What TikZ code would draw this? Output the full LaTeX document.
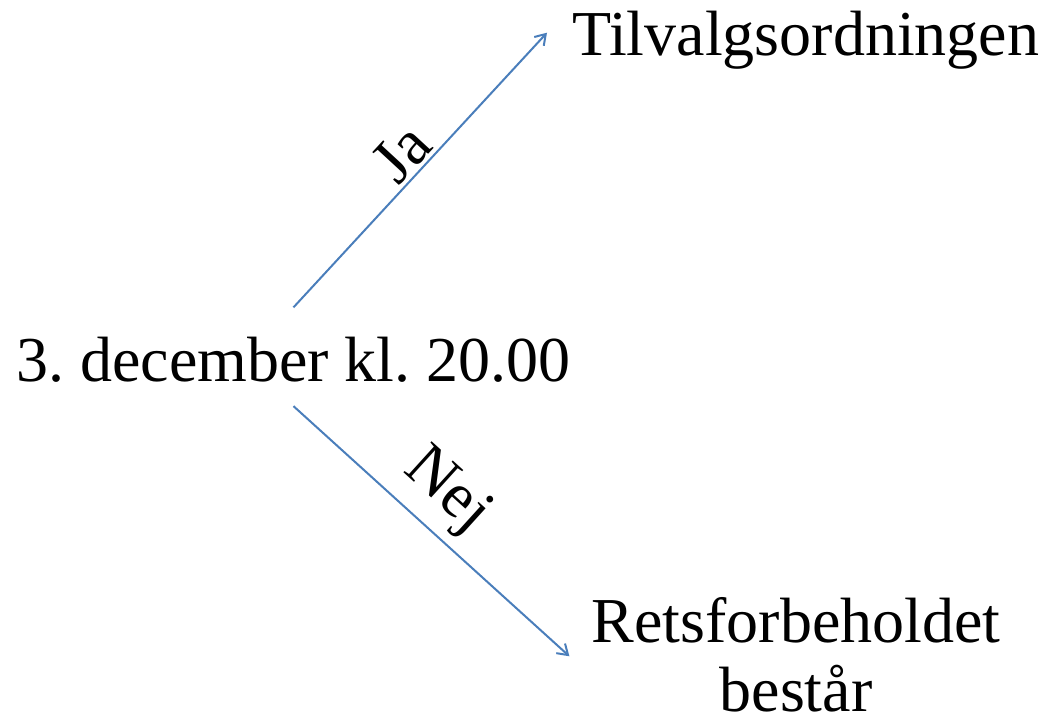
\documentclass[tikz,border=0pt]{standalone}
\usepackage{fontspec}
\setmainfont{Liberation Serif}
\usetikzlibrary{arrows.meta}
\definecolor{pilblaa}{HTML}{4A7EBB}
\frenchspacing
\begin{document}
\begin{tikzpicture}[x=1pt, y=-1pt, >={Straight Barb[length=10pt, width=13pt]},
    tekst/.style={inner sep=0pt, font=\fontsize{64}{69}\selectfont},
    pil/.style={->, pilblaa, line width=2pt},
    etiket/.style={sloped, above, font=\fontsize{64}{69}\selectfont, text=black}]
\useasboundingbox (0,0) rectangle (1041,721);
\node (dato) at (16,381) [tekst, anchor=base west]{3. december kl. 20.00};
\node (ja) at (572,55) [tekst, anchor=base west]{Tilvalgsordningen};
\node (nej) at (796,711) [tekst, anchor=base, align=center]{Retsforbeholdet\\består};
    \draw[pil] ([yshift=29pt]dato.north)--([xshift=-25pt, yshift=7pt]ja.west) node[etiket, midway, inner sep=3pt]{Ja};
    \draw[pil] ([yshift=-24pt]dato.south)--([xshift=-22pt, yshift=-2pt]nej.west) node[etiket, pos=.46, inner sep=10pt]{Nej};
\end{tikzpicture}
\end{document}
